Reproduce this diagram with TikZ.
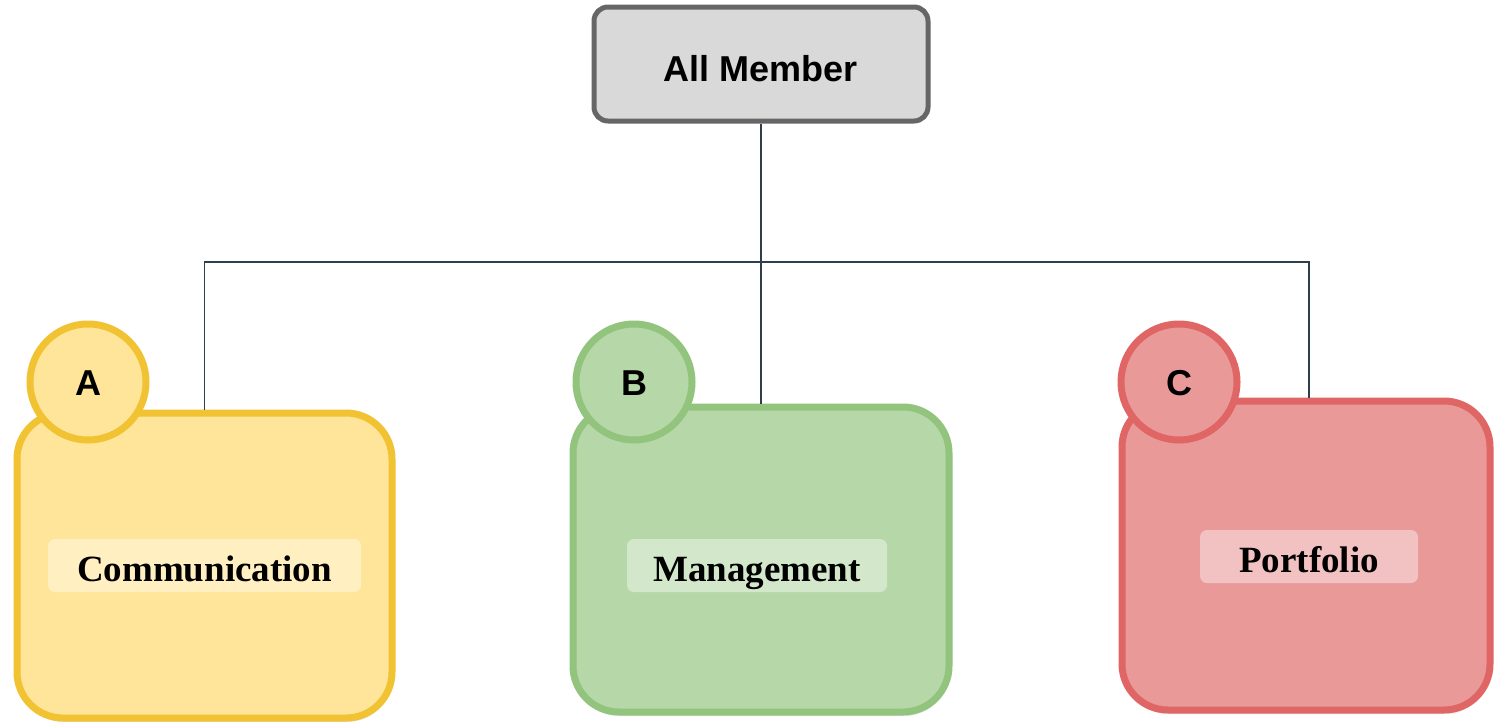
\documentclass[tikz,border=0pt]{standalone}
\usepackage{fontspec}
\setmainfont{Liberation Serif}
\newfontfamily\arialfont{Liberation Sans}
\usetikzlibrary{shadows}
\definecolor{grayfill}{HTML}{D9D9D9}
\definecolor{graydraw}{HTML}{666666}
\definecolor{yfill}{HTML}{FFE599}
\definecolor{ydraw}{HTML}{F1C232}
\definecolor{gfill}{HTML}{B6D7A8}
\definecolor{gdraw}{HTML}{93C47D}
\definecolor{rfill}{HTML}{EA9999}
\definecolor{rdraw}{HTML}{E06666}
\definecolor{conncol}{HTML}{2F3E4C}
\tikzset{
  topbox/.style={draw=graydraw, fill=grayfill, line width=5pt, rounded corners=14pt,
    minimum width=334pt, minimum height=114pt, inner sep=0pt,
    text height=34pt, text depth=0pt,
    font=\arialfont\bfseries\fontsize{36}{40}\selectfont},
  group/.style={line width=7pt, rounded corners=46pt, inner sep=0pt,
    drop shadow={shadow xshift=1pt, shadow yshift=-4pt, opacity=0.2}},
  badge/.style={circle, line width=7pt, minimum size=116pt, inner sep=0pt,
    text height=26pt, text depth=0pt,
    font=\arialfont\bfseries\fontsize{36}{40}\selectfont},
  tag/.style={fill=white, fill opacity=0.4, text opacity=1, rounded corners=7pt,
    minimum height=53pt, inner sep=0pt, text height=31pt, text depth=0pt,
    font=\bfseries\fontsize{37}{40}\selectfont},
  conn/.style={draw=conncol, line width=1.6pt},
}
\begin{document}
\begin{tikzpicture}[x=1pt, y=-1pt]
\clip (0,0) rectangle (1496,723);
\fill[white] (0,0) rectangle (1496,723);
\node[topbox] (top) at (761,64) {All Member};
\coordinate (j) at (761,262);
% groups
\node[group, draw=ydraw, fill=yfill, minimum width=375pt, minimum height=305pt] (boxA) at (204.5,565.5) {};
\node[group, draw=gdraw, fill=gfill, minimum width=376pt, minimum height=305pt] (boxB) at (761,559.5) {};
\node[group, draw=rdraw, fill=rfill, minimum width=368pt, minimum height=309pt] (boxC) at (1306,555.5) {};
% connectors
\draw[conn] (top.south) -- (j);
\draw[conn] (j) -| (boxA.north);
\draw[conn] (j) -- (boxB.north);
\draw[conn] (j) -| ([xshift=3pt]boxC.north);
% badges
\node[badge, draw=ydraw, fill=yfill] (bA) at (88,382) {A};
\node[badge, draw=gdraw, fill=gfill] (bB) at (634,382) {B};
\node[badge, draw=rdraw, fill=rfill] (bC) at (1179,382) {C};
% tags
\node[tag, minimum width=313pt] (tA) at (204.5,565.5) {Communication};
\node[tag, minimum width=260pt] (tB) at (757,565.5) {Management};
\node[tag, minimum width=218pt] (tC) at (1309,556.5) {Portfolio};
\end{tikzpicture}
\end{document}
